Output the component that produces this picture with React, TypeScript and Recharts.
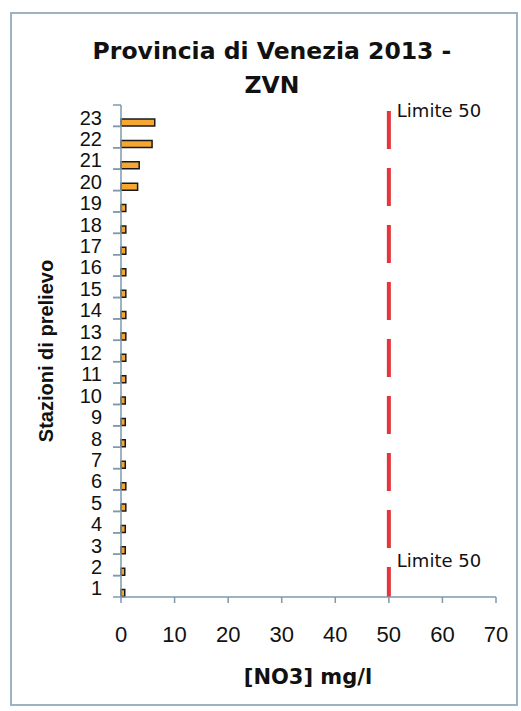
import React from "react";
import { BarChart, Bar, XAxis, YAxis, ReferenceLine } from "recharts";

const stations: string[] = ["1","2","3","4","5","6","7","8","9","10","11","12","13","14","15","16","17","18","19","20","21","22","23"];
const no3Values: number[] = [0.7, 0.7, 0.8, 0.8, 0.9, 0.9, 0.8, 0.8, 0.8, 0.8, 0.9, 0.9, 0.9, 0.9, 0.9, 0.9, 0.9, 0.9, 0.9, 3.1, 3.4, 5.8, 6.3];
const xTicks: number[] = [0, 10, 20, 30, 40, 50, 60, 70];
const limitValue = 50;
const limitLabel = "Limite 50";

const data = stations.map((s, i) => ({ station: s, spacer: null as number | null, no3: no3Values[i] }));

const BAND = 492 / 23;
const TICK_FONT = "'Liberation Sans', Arial, sans-serif";

const YTick = (props: any) => {
  const { x, y, payload } = props;
  const axisX = x + 25;
  return (
    <g>
      <text x={x + 6} y={y} dy={9} textAnchor="end" fontFamily={TICK_FONT} fontSize={20} fill="#111">
        {payload.value}
      </text>
      <line x1={axisX - 8} x2={axisX} y1={y - BAND / 2} y2={y - BAND / 2} stroke="#7f98aa" strokeWidth={1.5} />
      <line x1={axisX - 8} x2={axisX} y1={y + BAND / 2} y2={y + BAND / 2} stroke="#7f98aa" strokeWidth={1.5} />
    </g>
  );
};

const LimitLabels = (props: any) => {
  const vb = props.viewBox || {};
  const x = (vb.x ?? 0) + 8;
  const top = vb.y ?? 0;
  const bottom = top + (vb.height ?? 0);
  return (
    <g fontFamily="'DejaVu Sans', Verdana, sans-serif" fontSize={18} fill="#111">
      <text x={x} y={top + 12}>{limitLabel}</text>
      <text x={x} y={bottom - 30}>{limitLabel}</text>
    </g>
  );
};

export default function App() {
  return (
    <div style={{ position: "absolute", left: 0, top: 0, width: 521, height: 711, background: "#fff", overflow: "hidden" }}>
      <div style={{ position: "absolute", left: 10, top: 12, width: 504, height: 690, border: "2px solid #9fb2c0" }} />
      <div style={{ position: "absolute", left: 0, top: 0 }}>
        <BarChart
          width={521}
          height={711}
          data={data}
          layout="vertical"
          margin={{ top: 105, right: 25, bottom: 84, left: 61 }}
          barSize={7}
          barGap={7}
          barCategoryGap={0}
        >
          <XAxis
            type="number"
            domain={[0, 70]}
            ticks={xTicks}
            height={30}
            axisLine={{ stroke: "#7f98aa", strokeWidth: 1.5 }}
            tickLine={{ stroke: "#7f98aa", strokeWidth: 1.5 }}
            tickSize={6}
            tickMargin={23}
            tick={{ fontFamily: TICK_FONT, fontSize: 22, fill: "#111" }}
          />
          <YAxis
            type="category"
            dataKey="station"
            reversed
            width={60}
            interval={0}
            axisLine={{ stroke: "#7f98aa", strokeWidth: 1.5 }}
            tickLine={false}
            tickMargin={19}
            tick={<YTick />}
          />
          <Bar dataKey="spacer" fill="none" isAnimationActive={false} />
          <Bar dataKey="no3" fill="#f5a733" stroke="#1a1a1a" strokeWidth={1.5} isAnimationActive={false} />
          <ReferenceLine
            x={limitValue}
            stroke="#e5343c"
            strokeWidth={4}
            strokeDasharray="38 19"
            strokeDashoffset={8}
            label={<LimitLabels />}
          />
        </BarChart>
      </div>
      <div style={{ position: "absolute", left: 0, width: 544, top: 34, textAlign: "center", fontFamily: "'DejaVu Sans', Verdana, sans-serif", fontWeight: "bold", fontSize: 23.5, lineHeight: "34px", color: "#111" }}>
        Provincia di Venezia 2013 -<br />ZVN
      </div>
      <div style={{ position: "absolute", left: 46, top: 351, width: 0, height: 0 }}>
        <div style={{ position: "absolute", left: -150, top: -12, width: 300, textAlign: "center", transform: "rotate(-90deg)", fontFamily: "'Liberation Sans', Arial, sans-serif", fontWeight: "bold", fontSize: 20, lineHeight: "24px", color: "#111", whiteSpace: "nowrap" }}>
          Stazioni di prelievo
        </div>
      </div>
      <div style={{ position: "absolute", left: 158, width: 300, top: 664, textAlign: "center", fontFamily: "'DejaVu Sans', Verdana, sans-serif", fontWeight: "bold", fontSize: 21, lineHeight: "26px", color: "#111" }}>
        [NO3] mg/l
      </div>
    </div>
  );
}
